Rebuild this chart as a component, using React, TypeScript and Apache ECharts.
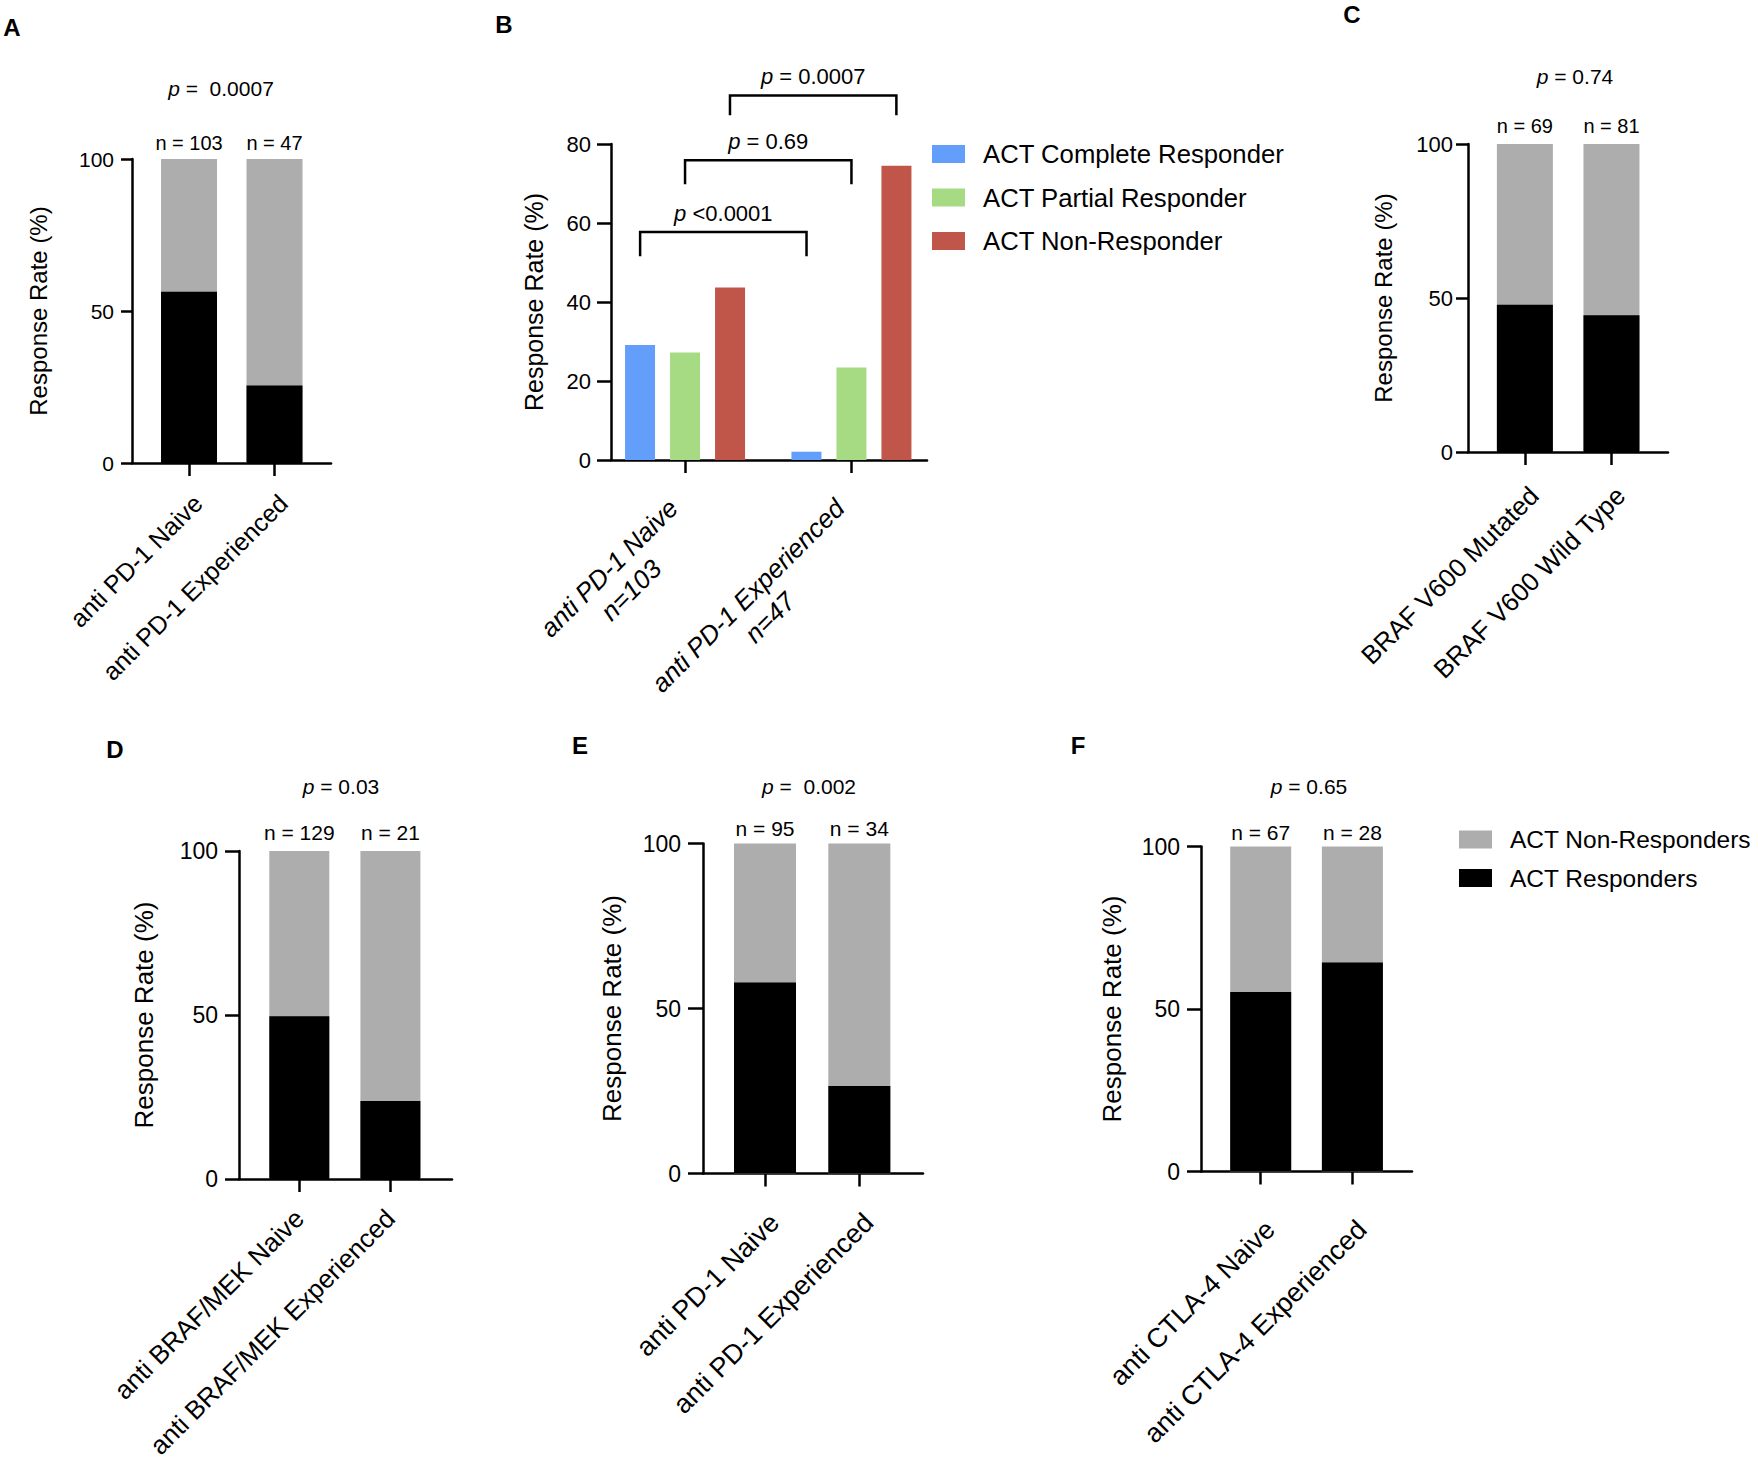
import React, { useEffect, useRef } from "react";
import * as echarts from "echarts";

const FONT = "'Liberation Sans', Arial, Helvetica, sans-serif";
const GRAY = "#adadae";
const BLACK = "#000000";
const BLUE = "#639efb";
const GREEN = "#a6db84";
const RED = "#c0554a";
const Y_NAME = "Response Rate (%)";

// ---------- data ----------
// Panel A
const catsA = ["anti PD-1 Naive", "anti PD-1 Experienced"];
const nA = [103, 47];
const respA = [56.3, 25.5];
const nonRespA = [43.7, 74.5];
const pA = "=  0.0007";

// Panel B
const catsB = ["anti PD-1 Naive", "anti PD-1 Experienced"];
const nB = [103, 47];
const completeB = [29.1, 2.1];
const partialB = [27.2, 23.4];
const nonResponderB = [43.7, 74.5];
const bracketFromB = [0.73, 1.0, 1.27];
const bracketToB = [1.73, 2.0, 2.27];
const bracketTopB = [57.7, 75.9, 92.3];
const bracketFootB = [51.6, 69.8, 87.3];
const bracketPB = ["<0.0001", "= 0.69", "= 0.0007"];

// Panel C
const catsC = ["BRAF V600 Mutated", "BRAF V600 Wild Type"];
const nC = [69, 81];
const respC = [47.8, 44.4];
const nonRespC = [52.2, 55.6];
const pC = "= 0.74";

// Panel D
const catsD = ["anti BRAF/MEK Naive", "anti BRAF/MEK Experienced"];
const nD = [129, 21];
const respD = [49.6, 23.8];
const nonRespD = [50.4, 76.2];
const pD = "= 0.03";

// Panel E
const catsE = ["anti PD-1 Naive", "anti PD-1 Experienced"];
const nE = [95, 34];
const respE = [57.9, 26.5];
const nonRespE = [42.1, 73.5];
const pE = "=  0.002";

// Panel F
const catsF = ["anti CTLA-4 Naive", "anti CTLA-4 Experienced"];
const nF = [67, 28];
const respF = [55.2, 64.3];
const nonRespF = [44.8, 35.7];
const pF = "= 0.65";

// ---------- layout (pixels) ----------
const L = {
  A: { left: 132, top: 159, width: 199, height: 304, xMin: 0.333, xMax: 2.661, bar: 56, tickFont: 21, tickMargin: 18, tickLen: 11, nameFont: 24, nameGap: 82, catFont: 25, catMargin: 27, catVA: "top", nFont: 20, nDist: 6, pX: 221, pY: 88, letter: "A", lx: 12, ly: 27 },
  B: { left: 611, top: 144, width: 316, height: 316, xMin: 0.555, xMax: 2.454, bar: 30, tickFont: 22, tickMargin: 20, tickLen: 14, nameFont: 25, nameGap: 65, catFont: 26, catMargin: 54, catVA: "middle", letter: "B", lx: 504, ly: 24 },
  C: { left: 1468, top: 144, width: 200, height: 308, xMin: 0.343, xMax: 2.653, bar: 56, tickFont: 22, tickMargin: 15, tickLen: 12, nameFont: 24, nameGap: 73, catFont: 26, catMargin: 30, catVA: "top", nFont: 20, nDist: 8, pX: 1575, pY: 76, letter: "C", lx: 1352, ly: 14 },
  D: { left: 239, top: 851, width: 213, height: 328, xMin: 0.338, xMax: 2.676, bar: 60, tickFont: 23, tickMargin: 21, tickLen: 14, nameFont: 26, nameGap: 82, catFont: 26, catMargin: 35, catVA: "middle", nFont: 21, nDist: 8, pX: 341, pY: 786, letter: "D", lx: 115, ly: 749 },
  E: { left: 703, top: 843.5, width: 220, height: 330, xMin: 0.3425, xMax: 2.675, bar: 62, tickFont: 23, tickMargin: 22, tickLen: 15, nameFont: 26, nameGap: 78, catFont: 27, catMargin: 35, catVA: "top", nFont: 21, nDist: 5, pX: 809, pY: 786, letter: "E", lx: 580, ly: 745 },
  F: { left: 1201, top: 846.5, width: 211, height: 325, xMin: 0.349, xMax: 2.65, bar: 61, tickFont: 23, tickMargin: 21, tickLen: 14, nameFont: 26, nameGap: 76, catFont: 27, catMargin: 44, catVA: "top", nFont: 21, nDist: 4, pX: 1309, pY: 786, letter: "F", lx: 1078, ly: 745 },
};

const AX = { color: BLACK, width: 2.5 };

function makeAxes(i: number, lay: any, cats: string[], yMax: number, yInterval: number, labelOpts: any = {}) {
  const grid = {
    left: lay.left,
    top: lay.top,
    width: lay.width,
    height: lay.height,
    containLabel: false,
    outerBoundsMode: "none",
  };
  const xAxis = {
    gridIndex: i,
    type: "value",
    min: lay.xMin,
    max: lay.xMax,
    axisLine: { show: true, onZero: false, lineStyle: AX },
    axisTick: { show: true, customValues: [1, 2], length: 13, lineStyle: AX },
    axisLabel: {
      customValues: [1, 2],
      rotate: 45,
      margin: lay.catMargin,
      fontSize: lay.catFont,
      color: BLACK,
      fontFamily: FONT,
      align: "right",
      verticalAlign: lay.catVA,
      formatter: (v: number) => cats[Math.round(v) - 1],
      ...labelOpts,
    },
    splitLine: { show: false },
  };
  const yAxis = {
    gridIndex: i,
    type: "value",
    min: 0,
    max: yMax,
    interval: yInterval,
    axisLine: { show: true, onZero: false, lineStyle: AX },
    axisTick: { show: true, length: lay.tickLen, lineStyle: AX },
    axisLabel: { margin: lay.tickMargin, fontSize: lay.tickFont, color: BLACK, fontFamily: FONT },
    splitLine: { show: false },
    name: Y_NAME,
    nameLocation: "middle",
    nameGap: lay.nameGap,
    nameTextStyle: { fontSize: lay.nameFont, color: BLACK, fontFamily: FONT },
  };
  return { grid, xAxis, yAxis };
}

// Grey bar spans the whole group (responders + non-responders); the black
// responder bar is drawn over its lower part.
function overlaySeries(i: number, lay: any, n: number[], resp: number[], nonResp: number[]) {
  return [
    {
      type: "bar",
      name: "ACT Non-Responders",
      xAxisIndex: i,
      yAxisIndex: i,
      barWidth: lay.bar,
      barGap: "-100%",
      itemStyle: { color: GRAY },
      label: {
        show: true,
        position: "top",
        distance: lay.nDist,
        fontSize: lay.nFont,
        color: BLACK,
        fontFamily: FONT,
        formatter: (p: any) => "n = " + n[p.dataIndex],
      },
      data: nonResp.map((v, k) => [k + 1, +(v + resp[k]).toFixed(1)]),
    },
    {
      type: "bar",
      name: "ACT Responders",
      xAxisIndex: i,
      yAxisIndex: i,
      barWidth: lay.bar,
      barGap: "-100%",
      itemStyle: { color: BLACK },
      data: resp.map((v, k) => [k + 1, v]),
    },
  ];
}

function pText(p: string, size: number) {
  return {
    text: "{i|p}{r| " + p + "}",
    rich: {
      i: { fontStyle: "italic", fontSize: size, fontFamily: FONT, fill: BLACK },
      r: { fontSize: size, fontFamily: FONT, fill: BLACK },
    },
  };
}

function buildOption() {
  const a = makeAxes(0, L.A, catsA, 100, 50);
  const bLabelRich: any = {};
  const bWidths = [184, 262];
  catsB.forEach((_, k) => {
    bLabelRich["w" + k] = { width: bWidths[k], align: "center", fontStyle: "italic", fontSize: L.B.catFont, fontFamily: FONT, color: BLACK, lineHeight: 31 };
  });
  const b = makeAxes(1, L.B, catsB, 80, 20, {
    formatter: (v: number) => {
      const k = Math.round(v) - 1;
      return "{w" + k + "|" + catsB[k] + "}\n{w" + k + "|n=" + nB[k] + "}";
    },
    rich: bLabelRich,
  });
  const c = makeAxes(2, L.C, catsC, 100, 50);
  const d = makeAxes(3, L.D, catsD, 100, 50);
  const e = makeAxes(4, L.E, catsE, 100, 50);
  const f = makeAxes(5, L.F, catsF, 100, 50);
  const all = [a, b, c, d, e, f];

  const bSeries = [
    { name: "ACT Complete Responder", color: BLUE, data: completeB },
    { name: "ACT Partial Responder", color: GREEN, data: partialB },
    { name: "ACT Non-Responder", color: RED, data: nonResponderB },
  ].map((s) => ({
    type: "bar",
    name: s.name,
    xAxisIndex: 1,
    yAxisIndex: 1,
    barWidth: L.B.bar,
    barGap: "50%",
    itemStyle: { color: s.color },
    data: s.data.map((v, k) => [k + 1, v]),
  }));

  const bracketSeries = {
    type: "custom",
    xAxisIndex: 1,
    yAxisIndex: 1,
    clip: false,
    silent: true,
    data: bracketFromB.map((x, k) => [x, bracketToB[k], bracketTopB[k], bracketFootB[k], k]),
    encode: { x: [0, 1], y: [2, 3] },
    renderItem: (_params: any, api: any) => {
      const x1 = api.value(0);
      const x2 = api.value(1);
      const top = api.value(2);
      const foot = api.value(3);
      const k = api.value(4);
      const p1 = api.coord([x1, foot]);
      const p2 = api.coord([x1, top]);
      const p3 = api.coord([x2, top]);
      const p4 = api.coord([x2, foot]);
      return {
        type: "group",
        children: [
          {
            type: "polyline",
            shape: { points: [p1, p2, p3, p4] },
            style: { stroke: BLACK, lineWidth: 2.5, fill: null },
          },
          {
            type: "text",
            x: (p2[0] + p3[0]) / 2,
            y: p2[1] - 19,
            style: { ...pText(bracketPB[k], 22), align: "center", verticalAlign: "middle" },
          },
        ],
      };
    },
  };

  const series: any[] = [
    ...overlaySeries(0, L.A, nA, respA, nonRespA),
    ...bSeries,
    bracketSeries,
    ...overlaySeries(2, L.C, nC, respC, nonRespC),
    ...overlaySeries(3, L.D, nD, respD, nonRespD),
    ...overlaySeries(4, L.E, nE, respE, nonRespE),
    ...overlaySeries(5, L.F, nF, respF, nonRespF),
  ];

  const letters = [L.A, L.B, L.C, L.D, L.E, L.F].map((lay) => ({
    type: "text",
    x: lay.lx,
    y: lay.ly,
    style: { text: lay.letter, fontSize: 24, fontWeight: "bold", fontFamily: FONT, fill: BLACK, align: "center", verticalAlign: "middle" },
  }));
  const pLabels = [
    [L.A, pA],
    [L.C, pC],
    [L.D, pD],
    [L.E, pE],
    [L.F, pF],
  ].map(([lay, p]: any) => ({
    type: "text",
    x: lay.pX,
    y: lay.pY,
    style: { ...pText(p, 21), align: "center", verticalAlign: "middle" },
  }));

  return {
    animation: false,
    backgroundColor: "#ffffff",
    textStyle: { fontFamily: FONT },
    grid: all.map((g) => g.grid),
    xAxis: all.map((g) => g.xAxis),
    yAxis: all.map((g) => g.yAxis),
    legend: [
      {
        data: ["ACT Complete Responder", "ACT Partial Responder", "ACT Non-Responder"],
        orient: "vertical",
        left: 932,
        top: 141,
        padding: 0,
        itemWidth: 33,
        itemHeight: 18,
        itemGap: 17.5,
        icon: "rect",
        selectedMode: false,
        textStyle: { fontSize: 25.7, lineHeight: 26, color: BLACK, fontFamily: FONT, padding: [0, 0, 0, 13] },
      },
      {
        data: ["ACT Non-Responders", "ACT Responders"],
        orient: "vertical",
        left: 1459,
        top: 827,
        padding: 0,
        itemWidth: 33,
        itemHeight: 18,
        itemGap: 13.5,
        icon: "rect",
        selectedMode: false,
        textStyle: { fontSize: 24.5, lineHeight: 25, color: BLACK, fontFamily: FONT, padding: [0, 0, 0, 13] },
      },
    ],
    graphic: [...letters, ...pLabels],
    series,
  };
}

export default function App() {
  const ref = useRef<HTMLDivElement>(null);
  useEffect(() => {
    if (!ref.current) return;
    const chart = echarts.init(ref.current, undefined, { renderer: "svg" });
    chart.setOption(buildOption() as any);
    return () => chart.dispose();
  }, []);
  return (
    <div
      ref={ref}
      style={{ position: "fixed", left: 0, top: 0, width: 1758, height: 1462, background: "#fff" }}
    />
  );
}
